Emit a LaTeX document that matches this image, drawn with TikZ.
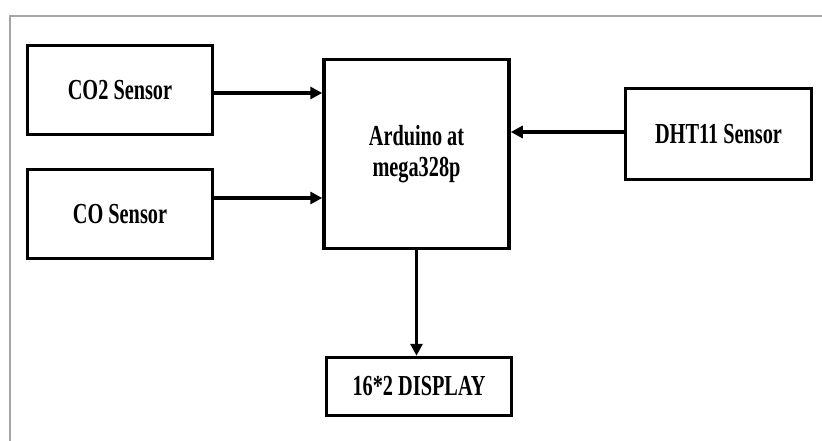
\documentclass[tikz,border=0pt]{standalone}
\usepackage{fontspec}
\newfontfamily\blkfont[FakeStretch=0.7]{Liberation Serif}
\usetikzlibrary{arrows.meta}

\begin{document}
\begin{tikzpicture}[
  x=1pt, y=-1pt,
  blk/.style={draw, line width=3.5pt, rectangle, minimum width=185pt, minimum height=89pt,
               align=center, inner sep=2pt,
               font=\blkfont\bfseries\fontsize{29}{31}\selectfont},
  arr/.style={line width=3.5pt, -{Triangle[length=12pt,width=12pt]}}
]
\useasboundingbox (0,0) rectangle (822,441);
\draw[gray!70, line width=1.5pt] (10,441) -- (10,16) -- (822,16);
\node[blk] (co2) at (120,   90)  {CO2 Sensor};
\node[blk] (co)  at (120,   214) {CO Sensor};
\node[blk, minimum height=189pt] (ard) at (416.5, 154) {Arduino at\\mega328p};
\node[blk, minimum width=186pt, minimum height=91pt] (dht) at (718.5, 134) {DHT11 Sensor};
\node[blk, minimum height=58pt] (disp) at (419, 386.5) {16*2 DISPLAY};
\draw[arr] ([yshift=-3pt]co2.east) coordinate (a1) -- (a1 -| ard.west);
\draw[arr] ([yshift=16pt]co.east) coordinate (a2) -- (a2 -| ard.west);
\draw[arr] ([yshift=2pt]dht.west) coordinate (a3) -- (a3 -| ard.east);
\draw[arr] (ard.south) -- (ard.south |- disp.north);
\end{tikzpicture}
\end{document}
